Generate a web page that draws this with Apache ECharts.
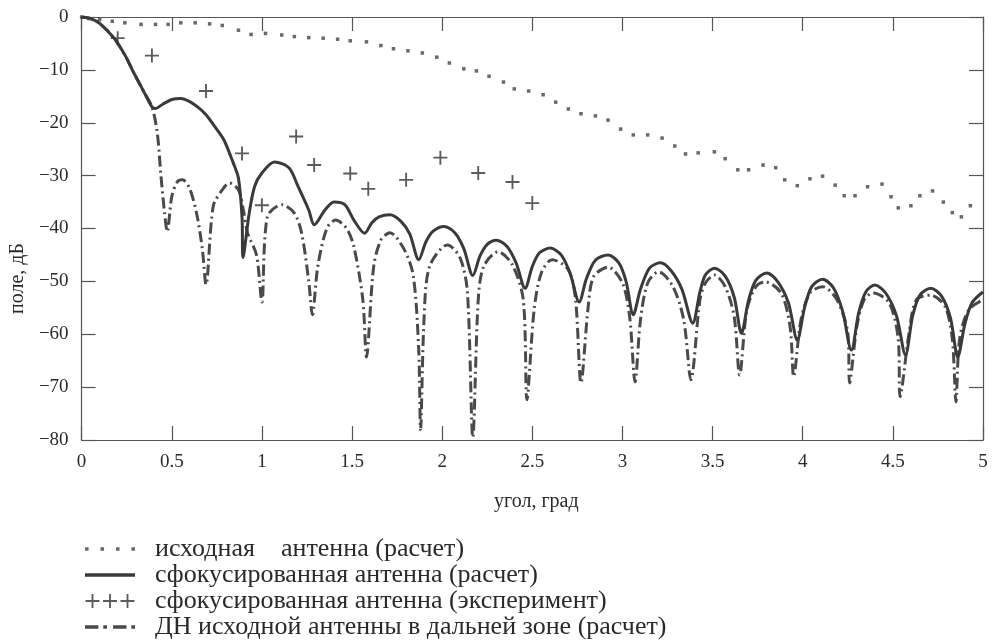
<!DOCTYPE html>
<html>
<head>
<meta charset="utf-8">
<script src="https://cdn.jsdelivr.net/npm/echarts@6/dist/echarts.min.js"></script>
<style>
  html, body { margin: 0; padding: 0; background: #ffffff; }
  #main { width: 993px; height: 641px; }
</style>
</head>
<body>
<div id="main"></div>
<script>
// исходная антенна (расчет) - dotted
var origData = [
  [0, 0], [0.04, -0.3], [0.1, -0.5], [0.17, -0.8], [0.24, -1.1], [0.33, -1.4], [0.41, -1.4],
  [0.48, -1.4], [0.55, -1.1], [0.63, -1.1], [0.71, -1.3], [0.78, -1.6], [0.87, -2.5],
  [0.94, -3.3], [1.02, -3.1], [1.11, -3.4], [1.18, -3.7], [1.26, -3.9], [1.34, -4.0],
  [1.42, -4.2], [1.49, -4.5], [1.58, -4.7], [1.66, -5.4], [1.73, -6.0], [1.81, -6.4],
  [1.89, -6.8], [1.97, -7.6], [2.04, -8.7], [2.12, -9.8], [2.19, -10.2], [2.26, -11.2],
  [2.34, -12.3], [2.40, -13.6], [2.48, -14.0], [2.56, -14.7], [2.63, -16.1], [2.70, -17.4],
  [2.77, -18.3], [2.85, -18.7], [2.92, -19.5], [2.99, -21.2], [3.06, -22.3], [3.14, -22.3],
  [3.22, -22.9], [3.29, -24.4], [3.35, -25.9], [3.42, -25.7], [3.51, -25.5], [3.57, -26.8],
  [3.64, -28.9], [3.70, -28.9], [3.78, -28.0], [3.85, -28.5], [3.90, -30.8], [3.97, -31.9],
  [4.04, -30.6], [4.11, -30.1], [4.18, -31.8], [4.23, -33.8], [4.29, -33.8], [4.36, -32.1],
  [4.44, -31.6], [4.49, -34.0], [4.53, -36.1], [4.60, -35.7], [4.65, -33.8], [4.72, -32.9],
  [4.78, -35.0], [4.83, -37.0], [4.88, -37.8], [4.93, -35.7]
];

// сфокусированная антенна (расчет) - solid
var focusCalc = [
  [0, 0], [0.05, -0.3], [0.1, -1.2], [0.18, -4.0], [0.24, -7.2], [0.29, -10.6], [0.34, -13.8],
  [0.39, -17.0], [0.41, -17.3], [0.45, -16.5], [0.5, -15.6], [0.55, -15.4], [0.6, -16.0],
  [0.65, -17.2], [0.69, -18.5], [0.74, -20.8], [0.79, -23.3], [0.84, -27.5], [0.87, -30.5],
  [0.89, -38.0], [0.895, -45.5], [0.93, -37.0], [0.96, -32.0], [1.0, -29.5], [1.07, -27.4],
  [1.15, -28.5], [1.2, -32.0], [1.26, -36.5], [1.29, -39.3], [1.35, -36.5], [1.40, -35.0],
  [1.46, -35.5], [1.51, -38.4], [1.57, -40.9],
  [1.61, -38.9], [1.65, -37.8], [1.71, -37.4], [1.77, -38.6], [1.82, -41.0], [1.87, -45.9],
  [1.91, -42.5], [1.95, -40.5], [2.01, -39.6], [2.07, -40.8], [2.12, -43.8], [2.17, -48.9],
  [2.21, -45.2], [2.25, -43.0], [2.30, -42.2], [2.36, -43.4], [2.41, -46.5], [2.46, -51.3],
  [2.50, -47.2], [2.54, -44.6], [2.60, -43.7], [2.66, -45.0], [2.71, -48.5], [2.76, -53.9],
  [2.80, -49.5], [2.85, -46.0], [2.92, -45.0], [2.98, -46.5], [3.02, -50.0], [3.06, -56.3],
  [3.10, -51.5], [3.15, -47.5], [3.21, -46.5], [3.27, -48.0], [3.33, -51.5], [3.39, -57.9],
  [3.43, -52.0], [3.46, -48.8], [3.51, -47.5], [3.57, -49.0], [3.62, -53.0], [3.66, -59.8],
  [3.70, -53.5], [3.74, -49.8], [3.80, -48.4], [3.86, -50.0], [3.92, -54.0], [3.97, -61.1],
  [4.01, -55.0], [4.05, -51.0], [4.11, -49.6], [4.17, -51.2], [4.22, -55.5], [4.27, -63.0],
  [4.31, -56.0], [4.35, -52.0], [4.40, -50.7], [4.46, -52.2], [4.52, -56.5], [4.57, -63.9],
  [4.61, -56.5], [4.65, -52.6], [4.71, -51.3], [4.77, -52.8], [4.82, -57.0], [4.86, -64.3],
  [4.90, -58.0], [4.94, -54.0], [5.0, -52.0]
];

// сфокусированная антенна (эксперимент) - crosses
var focusExp = [
  [0.2, -4.0], [0.39, -7.3], [0.69, -14.0], [0.89, -25.8], [1.0, -35.6], [1.19, -22.6],
  [1.29, -28.0], [1.49, -29.6], [1.59, -32.5], [1.80, -30.8], [1.99, -26.6], [2.20, -29.5],
  [2.39, -31.2], [2.50, -35.2]
];

// ДН исходной антенны в дальней зоне (расчет) - dash-dot
var farZone = [
  [0, 0], [0.05, -0.3], [0.1, -1.2], [0.18, -4.0], [0.24, -7.2], [0.29, -10.6], [0.34, -13.8],
  [0.39, -17.0], [0.42, -22.0], [0.44, -30.0], [0.46, -37.0], [0.475, -40.6], [0.50, -34.0],
  [0.53, -31.2], [0.56, -30.8], [0.60, -32.5], [0.64, -37.5], [0.67, -44.0], [0.69, -50.6],
  [0.73, -35.8], [0.78, -32.7], [0.82, -31.4], [0.87, -32.7], [0.90, -37.0], [0.92, -40.8],
  [0.97, -45.0], [1.0, -53.9], [1.03, -37.8], [1.11, -35.5], [1.18, -37.1], [1.22, -40.8],
  [1.26, -50.0], [1.28, -56.3], [1.31, -47.2], [1.36, -40.0], [1.41, -38.4], [1.47, -40.0],
  [1.51, -43.4], [1.56, -53.5], [1.58, -64.3], [1.62, -47.2], [1.66, -42.2], [1.71, -40.8],
  [1.79, -44.0], [1.84, -49.0], [1.87, -63.0], [1.88, -78.0], [1.90, -56.7], [1.93, -47.2],
  [2.03, -43.1], [2.10, -45.6], [2.14, -52.0], [2.17, -79.5], [2.20, -53.5], [2.23, -47.2],
  [2.31, -44.4], [2.39, -46.9], [2.45, -53.5], [2.47, -72.4], [2.51, -55.4], [2.55, -48.4],
  [2.61, -45.9], [2.70, -47.8], [2.74, -53.5], [2.77, -69.2], [2.81, -54.8], [2.84, -49.1],
  [2.92, -47.3], [3.00, -50.3], [3.04, -56.7], [3.07, -69.0], [3.10, -57.3], [3.14, -50.3],
  [3.20, -48.2], [3.28, -51.0], [3.34, -57.3], [3.38, -68.6], [3.43, -53.5], [3.46, -50.3],
  [3.51, -48.8], [3.57, -51.0], [3.62, -56.7], [3.65, -67.7], [3.69, -55.4], [3.74, -51.0],
  [3.79, -50.1], [3.88, -52.2], [3.93, -58.6], [3.95, -68.0], [3.99, -57.3], [4.04, -52.2],
  [4.11, -51.0], [4.19, -53.5], [4.25, -59.7], [4.26, -69.2], [4.30, -58.6], [4.34, -53.5],
  [4.39, -52.2], [4.48, -54.1], [4.53, -61.0], [4.54, -71.8], [4.59, -59.7], [4.63, -53.5],
  [4.71, -52.6], [4.79, -54.8], [4.83, -61.0], [4.85, -72.8], [4.87, -61.0], [4.92, -55.4],
  [5.0, -53.5]
];

var seriesNames = [
  'исходная    антенна (расчет)',
  'сфокусированная антенна (расчет)',
  'сфокусированная антенна (эксперимент)',
  'ДН исходной антенны в дальней зоне (расчет)'
];

var xName = 'угол, град';
var yName = 'поле, дБ';

var ink = '#3a3a3a';
var font = 'Liberation Serif';
var plusPath = 'path://M5.2,0h1.6v5.2h5.2v1.6h-5.2v5.2h-1.6v-5.2h-5.2v-1.6h5.2z';

var chart = echarts.init(document.getElementById('main'));

function axisBase() {
  return {
    axisLine: { show: true, onZero: false, lineStyle: { color: '#555', width: 1.2 } },
    axisTick: { show: true, inside: true, length: 14, lineStyle: { color: '#555', width: 1.2 } },
    splitLine: { show: false }
  };
}

var option = {
  backgroundColor: '#ffffff',
  animation: false,
  grid: { left: 80, right: 10, top: 17, bottom: 201 },
  legend: {
    orient: 'vertical',
    left: 80,
    top: 531,
    height: 110,
    itemWidth: 50,
    itemHeight: 14,
    itemGap: 0,
    selectedMode: false,
    textStyle: { fontFamily: font, fontSize: 26, color: '#2a2a2a', lineHeight: 25, padding: [0, 0, 0, 15] },
    data: [
      { name: seriesNames[0], icon: 'path://M0,0h3v3h-3zM13,0h3v3h-3zM26,0h3v3h-3zM39,0h3v3h-3z' },
      { name: seriesNames[1], icon: 'path://M0,0h42v3h-42z' },
      { name: seriesNames[2], icon: 'path://M5.2,0h1.6v5.2h5.2v1.6h-5.2v5.2h-1.6v-5.2h-5.2v-1.6h5.2zM20.2,0h1.6v5.2h5.2v1.6h-5.2v5.2h-1.6v-5.2h-5.2v-1.6h5.2zM35.2,0h1.6v5.2h5.2v1.6h-5.2v5.2h-1.6v-5.2h-5.2v-1.6h5.2z' },
      { name: seriesNames[3], icon: 'path://M0,0h11v3h-11zM15,0h3v3h-3zM23,0h11v3h-11zM38,0h3v3h-3z' }
    ]
  },
  xAxis: [
    Object.assign(axisBase(), {
      type: 'value', min: 0, max: 5, interval: 0.5, position: 'bottom',
      name: xName, nameLocation: 'middle', nameGap: 52,
      nameTextStyle: { fontFamily: font, fontSize: 20, color: '#2a2a2a', padding: [0, 0, 0, 8] },
      axisLabel: { fontFamily: font, fontSize: 19, color: '#2a2a2a', margin: 13 }
    }),
    Object.assign(axisBase(), {
      type: 'value', min: 0, max: 5, interval: 0.5, position: 'top',
      axisLabel: { show: false }
    })
  ],
  yAxis: [
    Object.assign(axisBase(), {
      type: 'value', min: -80, max: 0, interval: 10, position: 'left',
      name: yName, nameLocation: 'middle', nameGap: 50, nameRotate: 90,
      nameTextStyle: { fontFamily: font, fontSize: 20, color: '#2a2a2a', padding: [0, 100, 0, 0] },
      axisLabel: {
        fontFamily: font, fontSize: 19, color: '#2a2a2a', margin: 13,
        formatter: function (v) { return v < 0 ? '\u2212' + (-v) : String(v); }
      }
    }),
    Object.assign(axisBase(), {
      type: 'value', min: -80, max: 0, interval: 10, position: 'right',
      axisLabel: { show: false }
    })
  ],
  series: [
    {
      name: seriesNames[0],
      type: 'scatter',
      data: origData,
      symbol: 'rect',
      symbolSize: 3.5,
      itemStyle: { color: '#444' },
      z: 3
    },
    {
      name: seriesNames[1],
      type: 'line',
      data: focusCalc,
      symbol: 'none',
      smooth: 0.3,
      itemStyle: { color: ink },
      lineStyle: { color: ink, width: 3 },
      z: 4
    },
    {
      name: seriesNames[2],
      type: 'scatter',
      data: focusExp,
      symbol: plusPath,
      symbolSize: 14,
      itemStyle: { color: '#333' },
      z: 5
    },
    {
      name: seriesNames[3],
      type: 'line',
      data: farZone,
      symbol: 'none',
      smooth: 0.3,
      itemStyle: { color: '#4a4a4a' },
      lineStyle: { color: '#4a4a4a', width: 3, type: [11, 4, 2, 4] },
      z: 2
    }
  ]
};

chart.setOption(option);
</script>
</body>
</html>
